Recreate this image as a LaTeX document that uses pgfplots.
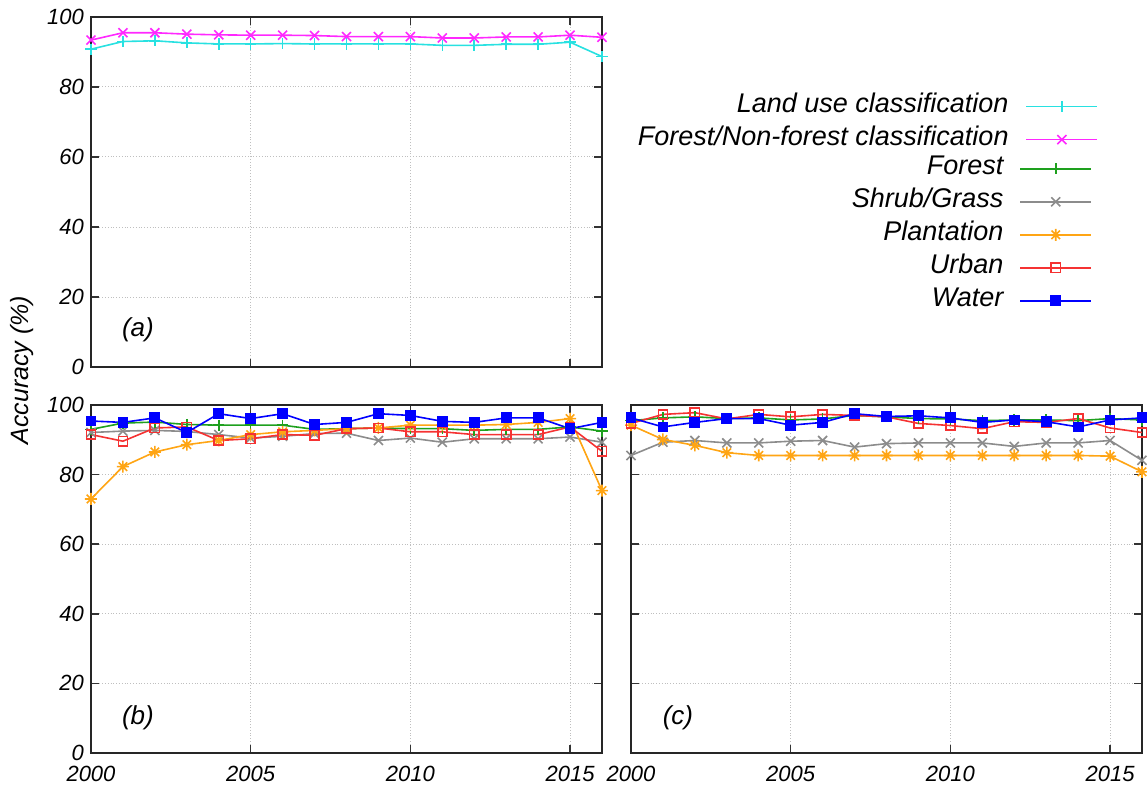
\documentclass[border=0pt]{standalone}
\usepackage{fontspec}
\setmainfont{Liberation Sans}
\usepackage{pgfplots}
\pgfplotsset{compat=1.18}
\usepackage{pgfplotstable}

\definecolor{cLand}{RGB}{40,225,225}
\definecolor{cFNF}{RGB}{255,40,255}
\definecolor{cForest}{RGB}{30,160,30}
\definecolor{cShrub}{RGB}{140,140,140}
\definecolor{cPlant}{RGB}{255,165,20}
\definecolor{cUrban}{RGB}{245,50,50}
\definecolor{cWater}{RGB}{0,0,255}

\pgfdeclareplotmark{gpstar}{%
  \pgfpathmoveto{\pgfqpoint{-\pgfplotmarksize}{0pt}}\pgfpathlineto{\pgfqpoint{\pgfplotmarksize}{0pt}}%
  \pgfpathmoveto{\pgfqpoint{0pt}{-\pgfplotmarksize}}\pgfpathlineto{\pgfqpoint{0pt}{\pgfplotmarksize}}%
  \pgfpathmoveto{\pgfqpoint{-.7071\pgfplotmarksize}{-.7071\pgfplotmarksize}}\pgfpathlineto{\pgfqpoint{.7071\pgfplotmarksize}{.7071\pgfplotmarksize}}%
  \pgfpathmoveto{\pgfqpoint{-.7071\pgfplotmarksize}{.7071\pgfplotmarksize}}\pgfpathlineto{\pgfqpoint{.7071\pgfplotmarksize}{-.7071\pgfplotmarksize}}%
  \pgfusepathqstroke}

\pgfplotstableread{
year land fnf
2000 90.8 93.4
2001 93.0 95.5
2002 93.2 95.5
2003 92.6 95.1
2004 92.3 94.9
2005 92.3 94.8
2006 92.4 94.8
2007 92.3 94.7
2008 92.3 94.4
2009 92.3 94.4
2010 92.3 94.4
2011 91.9 94.0
2012 91.9 94.0
2013 92.2 94.3
2014 92.2 94.3
2015 92.8 94.8
2016 88.7 94.2
}\tabA

\pgfplotstableread{
year forest shrub plant urban water
2000 93.0 92.1 73.0 91.5 95.4
2001 94.8 92.5 82.3 89.6 95.0
2002 95.1 92.7 86.5 93.4 96.3
2003 94.4 92.4 88.6 93.7 92.1
2004 94.2 91.5 89.8 89.8 97.5
2005 94.2 90.5 91.5 90.3 96.1
2006 94.2 91.0 92.3 91.5 97.5
2007 93.0 91.8 92.7 91.3 94.4
2008 93.2 91.9 93.2 93.2 95.0
2009 93.4 89.8 93.4 93.4 97.5
2010 93.2 90.5 94.2 92.3 97.0
2011 93.2 89.3 94.2 92.3 95.3
2012 92.7 90.3 94.2 91.5 95.0
2013 93.0 90.3 94.4 91.5 96.3
2014 93.0 90.3 95.0 91.5 96.3
2015 93.7 90.8 96.1 93.7 93.2
2016 92.5 89.3 75.4 86.7 95.0
}\tabB

\pgfplotstableread{
year forest shrub plant urban water
2000 95.5 85.5 94.2 94.7 96.3
2001 96.3 89.3 90.1 97.3 93.7
2002 96.6 89.8 88.4 97.8 95.0
2003 96.1 89.1 86.3 96.0 96.1
2004 96.3 89.1 85.5 97.3 96.1
2005 95.7 89.6 85.5 96.6 94.2
2006 96.0 89.8 85.5 97.3 95.0
2007 97.0 87.9 85.5 97.0 97.5
2008 96.6 88.9 85.5 96.6 96.7
2009 96.1 89.1 85.5 94.7 96.9
2010 96.0 89.1 85.5 94.1 96.3
2011 95.5 89.1 85.5 93.2 95.0
2012 95.7 88.1 85.5 95.2 95.7
2013 95.7 89.1 85.5 95.0 95.2
2014 95.5 89.1 85.5 96.1 93.7
2015 96.1 89.8 85.3 93.4 95.7
2016 95.7 84.1 80.8 92.1 96.3
}\tabC

\pgfplotsset{
  panel/.style={
    scale only axis, width=255.5pt, height=174pt,
    xmin=2000, xmax=2016, ymin=0, ymax=100,
    xtick={2000,2005,2010,2015}, ytick={0,20,...,100},
    grid=major, major grid style={densely dotted, gray!50, line width=0.5pt},
    tick align=inside, major tick length=4pt,
    axis line style={line width=0.9pt, black!85},
    every tick/.style={black!80, line width=0.8pt},
    ticklabel style={font=\itshape\fontsize{11}{13}\selectfont},
    xticklabel style={yshift=-3pt},
    /pgf/number format/assume math mode=true,
    /pgf/number format/1000 sep={},
    clip=false,
    every axis plot/.append style={line width=0.8pt, mark size=2.2pt},
    legend plot pos=right,
    legend cell align=right,
    legend image code/.code={\draw[mark repeat=2,mark phase=2,##1] plot coordinates {(0pt,0pt) (17.75pt,0pt) (35.5pt,0pt)};},
  },
  lgd/.style={draw=none, fill=none, inner sep=0pt, outer sep=0pt,
    font=\itshape\fontsize{13.5}{16}\selectfont, row sep=0pt,
    nodes={inner sep=0pt, text height=11pt, text depth=5.5pt}},
  xmk/.style={mark=x, mark size=3.2pt},
  pmk/.style={mark=+, mark size=2.8pt},
}

\begin{document}
\begin{tikzpicture}
\useasboundingbox (-45.5pt,-18pt) rectangle (528pt,376.5pt);

% panel (a)
\begin{axis}[panel, at={(0pt,193pt)}, anchor=south west, height=175pt,
  xticklabels={},
  legend style={lgd, at={(1.971,0.791)}, anchor=north east, column sep=8.5pt}]
\addplot[color=cLand, pmk] table[x=year,y=land] {\tabA};
\addlegendentry{Land use classification}
\addplot[color=cFNF, xmk] table[x=year,y=fnf] {\tabA};
\addlegendentry{Forest/Non-forest classification}
\node[font=\itshape\fontsize{13}{15}\selectfont] at (axis cs:2001.47,10.6) {(a)};
\end{axis}

% panel (b)
\begin{axis}[panel, at={(0pt,0pt)}, anchor=south west,
  legend style={lgd, at={(1.959,1.726)}, anchor=north east, column sep=8pt}]
\addplot[color=cForest, pmk] table[x=year,y=forest] {\tabB};
\addlegendentry{Forest}
\addplot[color=cShrub, xmk] table[x=year,y=shrub] {\tabB};
\addlegendentry{Shrub/Grass}
\addplot[color=cPlant, mark=gpstar, mark size=3pt] table[x=year,y=plant] {\tabB};
\addlegendentry{Plantation}
\addplot[color=cUrban, mark=square, mark size=2.3pt] table[x=year,y=urban] {\tabB};
\addlegendentry{Urban}
\addplot[color=cWater, mark=square*, mark size=2.3pt, mark options={fill=cWater}] table[x=year,y=water] {\tabB};
\addlegendentry{Water}
\node[font=\itshape\fontsize{13}{15}\selectfont] at (axis cs:2001.47,10.1) {(b)};
\end{axis}

% panel (c)
\begin{axis}[panel, at={(270pt,0pt)}, anchor=south west, yticklabels={}]
\addplot[color=cForest, pmk] table[x=year,y=forest] {\tabC};
\addplot[color=cShrub, xmk] table[x=year,y=shrub] {\tabC};
\addplot[color=cPlant, mark=gpstar, mark size=3pt] table[x=year,y=plant] {\tabC};
\addplot[color=cUrban, mark=square, mark size=2.3pt] table[x=year,y=urban] {\tabC};
\addplot[color=cWater, mark=square*, mark size=2.3pt, mark options={fill=cWater}] table[x=year,y=water] {\tabC};
\node[font=\itshape\fontsize{13}{15}\selectfont] at (axis cs:2001.47,10.1) {(c)};
\end{axis}

\node[rotate=90, font=\itshape\fontsize{12.5}{15}\selectfont] at (-34.5pt,191.5pt) {Accuracy (\%)};
\end{tikzpicture}
\end{document}
